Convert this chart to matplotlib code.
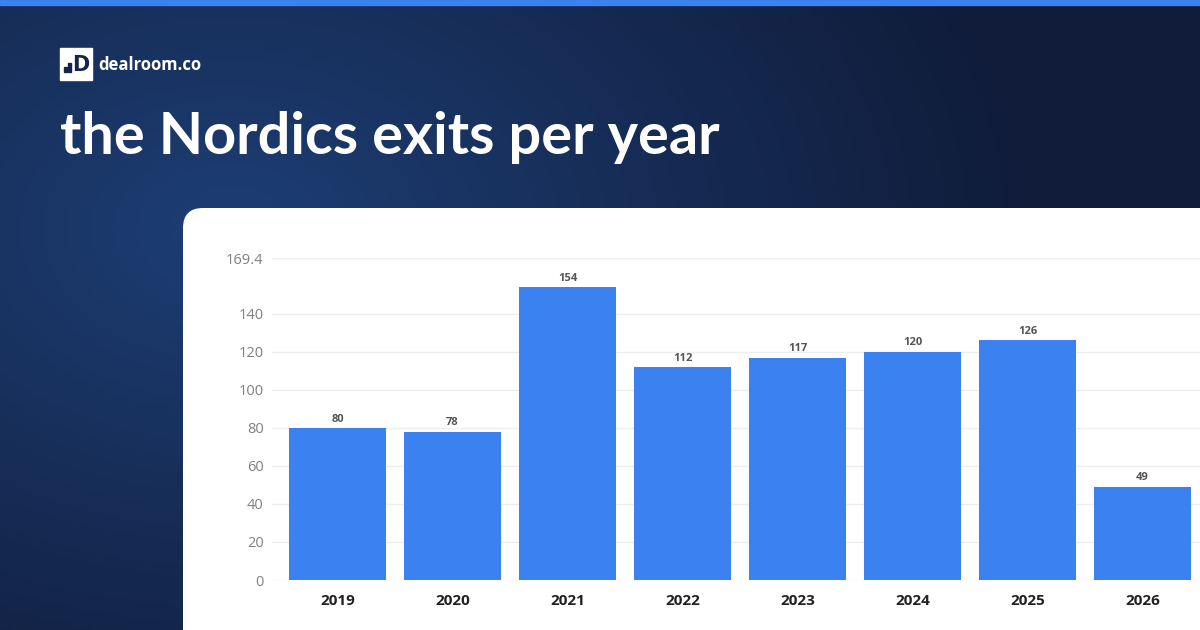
import numpy as np
import matplotlib.pyplot as plt
from matplotlib.patches import FancyBboxPatch, Rectangle

years = ["2019", "2020", "2021", "2022", "2023", "2024", "2025", "2026"]
exits = [80, 78, 154, 112, 117, 120, 126, 49]
y_ticks = [0, 20, 40, 60, 80, 100, 120, 140, 169.4]
y_labels = ["0", "20", "40", "60", "80", "100", "120", "140", "169.4"]

W, H = 1200, 630
fig = plt.figure(figsize=(W / 100, H / 100), dpi=100)

# background gradient
bg = fig.add_axes([0, 0, 1, 1])
bg.set_xlim(0, W)
bg.set_ylim(H, 0)
bg.axis("off")
xx, yy = np.meshgrid(np.linspace(0, W, 300), np.linspace(0, H, 160))
d = np.sqrt(((xx - 230) / 800) ** 2 + ((yy - 230) / 560) ** 2)
t = np.clip(d, 0, 1)[..., None]
c_in = np.array([0x1d, 0x3e, 0x74]) / 255
c_out = np.array([0x10, 0x1c, 0x3a]) / 255
img = c_in * (1 - t) + c_out * t
bg.imshow(img, extent=[0, W, H, 0], aspect="auto", zorder=0)
bg.add_patch(Rectangle((0, 0), W, 5, color="#3b82f0", zorder=1))

# logo
bg.add_patch(Rectangle((60, 48), 32, 32, color="white", zorder=2))
bg.text(81, 65, "D", color="#13254a", fontsize=15, fontweight="bold",
        ha="center", va="center", family="DejaVu Sans", zorder=3)
bg.add_patch(Rectangle((64, 67), 3, 5, color="#13254a", zorder=3))
bg.add_patch(Rectangle((68, 63), 3, 9, color="#13254a", zorder=3))
bg.text(98, 65, "dealroom.co", color="white", fontsize=12, fontweight="bold",
        ha="left", va="center", family="Open Sans", zorder=3)

# title
bg.text(60, 138, "the Nordics exits per year", color="white", fontsize=41.5,
        fontweight="bold", ha="left", va="center", family="Lato", zorder=3)

# white panel
bg.add_patch(FancyBboxPatch((203, 228), 1100, 500,
                            boxstyle="round,pad=20,rounding_size=20",
                            fc="white", ec="none", zorder=2))

# chart
ax = fig.add_axes([272 / W, 50 / H, 1 - 272 / W, 322 / H])
ax.set_facecolor("none")
x = np.arange(len(years))
ax.bar(x, exits, width=0.843, color="#3b82f0", zorder=2)
for xi, v in zip(x, exits):
    ax.text(xi, v + 1.8, str(v), ha="center", va="bottom", fontsize=8,
            fontweight="bold", color="#555555", family="Open Sans")

ax.set_xlim(-0.57, 7.5)
ax.set_ylim(0, 169.4)
ax.set_yticks(y_ticks)
ax.set_yticklabels(y_labels)
ax.set_xticks(x)
ax.set_xticklabels(years)
ax.grid(axis="y", color="#eeeeee", linewidth=1, zorder=0)
for s in ax.spines.values():
    s.set_visible(False)
ax.tick_params(axis="both", length=0)
ax.tick_params(axis="y", pad=6, labelsize=10.5, labelcolor="#808080")
ax.tick_params(axis="x", pad=10, labelsize=11)
for lab in ax.get_xticklabels():
    lab.set_fontweight("bold")
    lab.set_color("#222222")
    lab.set_family("Open Sans")
for lab in ax.get_yticklabels():
    lab.set_family("Open Sans")

fig.savefig("out.png", dpi=100)
